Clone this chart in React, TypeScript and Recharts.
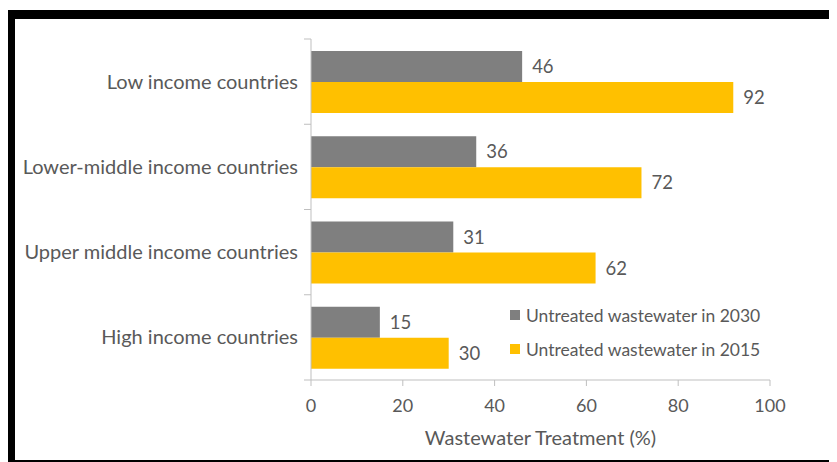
import React from "react"
import { BarChart, Bar, XAxis, YAxis, Legend, LabelList } from "recharts"

const categories = [
  "Low income countries",
  "Lower-middle income countries",
  "Upper middle income countries",
  "High income countries",
]
const untreated2030 = [46, 36, 31, 15]
const untreated2015 = [92, 72, 62, 30]
const seriesNames = ["Untreated wastewater in 2030", "Untreated wastewater in 2015"]
const xTicks = [0, 20, 40, 60, 80, 100]

const data = categories.map((name, i) => ({
  name,
  y2030: untreated2030[i],
  y2015: untreated2015[i],
}))

const W = 837
const H = 462
const M = { top: 39, right: 67, bottom: 22, left: 0 }
const X_AXIS_H = 60
const Y_AXIS_W = 311
const bandSize = (H - M.top - M.bottom - X_AXIS_H) / categories.length

const font = "Lato, 'Open Sans', sans-serif"
const textGray = "#595959"
const axisGray = "#bfbfbf"

function CategoryTick(props: any) {
  const { x, y, payload, index } = props
  const axisX = x + 13
  return (
    <g>
      <line x1={axisX - 7} x2={axisX} y1={y - bandSize / 2} y2={y - bandSize / 2} stroke={axisGray} />
      {index === categories.length - 1 && (
        <line x1={axisX - 7} x2={axisX} y1={y + bandSize / 2} y2={y + bandSize / 2} stroke={axisGray} />
      )}
      <text x={x} y={y} dy="0.35em" textAnchor="end" fill={textGray} fontSize={20} fontFamily={font}>
        {payload.value}
      </text>
    </g>
  )
}

function LegendBox(props: any) {
  const items = [...(props.payload || [])].sort(
    (a: any, b: any) => seriesNames.indexOf(a.value) - seriesNames.indexOf(b.value)
  )
  return (
    <div style={{ fontFamily: font, fontSize: 17.5, color: textGray }}>
      {items.map((it: any) => (
        <div key={it.value} style={{ display: "flex", alignItems: "center", height: 34 }}>
          <span style={{ width: 10, height: 10, background: it.color, marginRight: 6, display: "inline-block" }} />
          {it.value}
        </div>
      ))}
    </div>
  )
}

export default function App() {
  return (
    <div style={{ position: "relative", width: W, height: H, margin: "-8px 0 0 -8px", overflow: "hidden", background: "#fff" }}>
      <div
        style={{
          position: "absolute",
          left: 7,
          top: 10,
          width: W,
          height: H - 10,
          boxSizing: "border-box",
          borderLeft: "8px solid #000",
          borderTop: "9px solid #000",
          borderBottom: "2px solid #000",
        }}
      />
      <div style={{ position: "absolute", left: 0, top: 0 }}>
        <BarChart width={W} height={H} data={data} layout="vertical" margin={M} barCategoryGap="14%" barGap={0}>
          <XAxis
            type="number"
            domain={[0, 100]}
            ticks={xTicks}
            height={X_AXIS_H}
            stroke={axisGray}
            tickSize={6}
            tickMargin={13}
            tick={{ fill: textGray, fontSize: 18, fontFamily: font }}
            label={{
              value: "Wastewater Treatment (%)",
              position: "insideBottom",
              offset: -5,
              fill: textGray,
              fontSize: 20,
              fontFamily: font,
            }}
          />
          <YAxis
            type="category"
            dataKey="name"
            width={Y_AXIS_W}
            stroke={axisGray}
            tickLine={false}
            tickSize={0}
            tickMargin={13}
            tick={<CategoryTick />}
          />
          <Legend
            layout="vertical"
            align="center"
            verticalAlign="middle"
            content={<LegendBox />}
            wrapperStyle={{ position: "absolute", left: 510, top: 298, width: 300 }}
          />
          <Bar dataKey="y2030" name={seriesNames[0]} fill="#7f7f7f" isAnimationActive={false}>
            <LabelList dataKey="y2030" position="right" offset={10} fill={textGray} fontSize={18.5} fontFamily={font} />
          </Bar>
          <Bar dataKey="y2015" name={seriesNames[1]} fill="#ffc000" isAnimationActive={false}>
            <LabelList dataKey="y2015" position="right" offset={10} fill={textGray} fontSize={18.5} fontFamily={font} />
          </Bar>
        </BarChart>
      </div>
    </div>
  )
}
